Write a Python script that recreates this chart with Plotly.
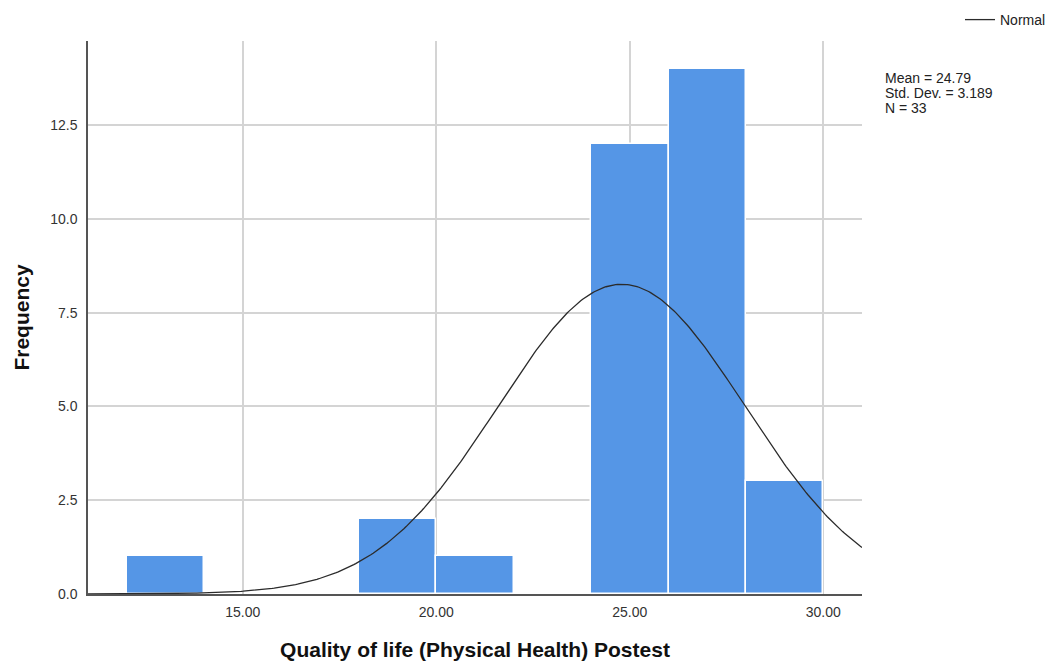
import numpy as np
import plotly.graph_objects as go

# Histogram bins (lower edge, upper edge) and counts
bin_lo = [12, 18, 20, 24, 26, 28]
bin_hi = [14, 20, 22, 26, 28, 30]
counts = [1, 2, 1, 12, 14, 3]

mean_val = 24.79
sd_val = 3.189
n_val = 33
bin_width = 2

x_ticks = [15, 20, 25, 30]
x_tick_text = ["15.00", "20.00", "25.00", "30.00"]
y_ticks = [0, 2.5, 5, 7.5, 10, 12.5]
y_tick_text = ["0.0", "2.5", "5.0", "7.5", "10.0", "12.5"]

stats_lines = [f"Mean = {mean_val:.2f}", f"Std. Dev. = {sd_val:.3f}", f"N = {n_val}"]

font_family = "Arial, Liberation Sans, sans-serif"

centers = [(a + b) / 2 for a, b in zip(bin_lo, bin_hi)]
widths = [b - a for a, b in zip(bin_lo, bin_hi)]

# Normal density scaled to counts
xs = np.linspace(11, 31, 400)
ys = n_val * bin_width / (sd_val * np.sqrt(2 * np.pi)) * np.exp(-0.5 * ((xs - mean_val) / sd_val) ** 2)

fig = go.Figure()
fig.add_trace(go.Bar(
    x=centers, y=counts, width=widths,
    marker=dict(color="rgb(85,150,230)", line=dict(color="white", width=1.5)),
    showlegend=False, hoverinfo="skip",
))
fig.add_trace(go.Scatter(
    x=xs, y=ys, mode="lines", name="Normal",
    line=dict(color="#2b2b2b", width=1.3),
))

# Stats box lines, tightly spaced
plot_h = 665 - 41 - 71
stat_y_px = [78, 93, 108]
annotations = []
for txt, ypx in zip(stats_lines, stat_y_px):
    annotations.append(dict(
        xref="paper", yref="paper", x=(883 - 88) / 774, y=(594 - ypx) / plot_h,
        xanchor="left", yanchor="middle", showarrow=False, text=txt,
        font=dict(size=14, color="#222222"),
    ))

fig.update_layout(
    width=1050, height=665,
    margin=dict(l=88, r=188, t=41, b=71, autoexpand=False),
    plot_bgcolor="white", paper_bgcolor="white",
    font=dict(family=font_family, size=14, color="#333333"),
    bargap=0,
    legend=dict(
        x=(960 - 88) / 774, y=(594 - 20) / plot_h, xanchor="left", yanchor="middle",
        bgcolor="rgba(0,0,0,0)", font=dict(size=14, color="#222222"),
        itemwidth=30,
    ),
    annotations=annotations,
)

fig.update_xaxes(
    range=[11, 31], tickvals=x_ticks, ticktext=x_tick_text,
    showgrid=True, gridcolor="#d4d4d4", gridwidth=1.5,
    showline=True, linecolor="#555555", linewidth=1.5,
    ticks="", zeroline=False, ticklabelstandoff=4,
    tickfont=dict(size=14, color="#333333"),
    title=dict(text="<b>Quality of life (Physical Health) Postest</b>",
               font=dict(size=21, color="#111111"), standoff=24),
)
fig.update_yaxes(
    range=[0, 14.74], tickvals=y_ticks, ticktext=y_tick_text,
    showgrid=True, gridcolor="#d4d4d4", gridwidth=1.5,
    showline=True, linecolor="#555555", linewidth=1.5,
    ticks="", zeroline=False, ticklabelstandoff=6,
    tickfont=dict(size=14, color="#333333"),
    title=dict(text="<b>Frequency</b>", font=dict(size=21, color="#111111"), standoff=15),
)

fig.write_html("out.html")
